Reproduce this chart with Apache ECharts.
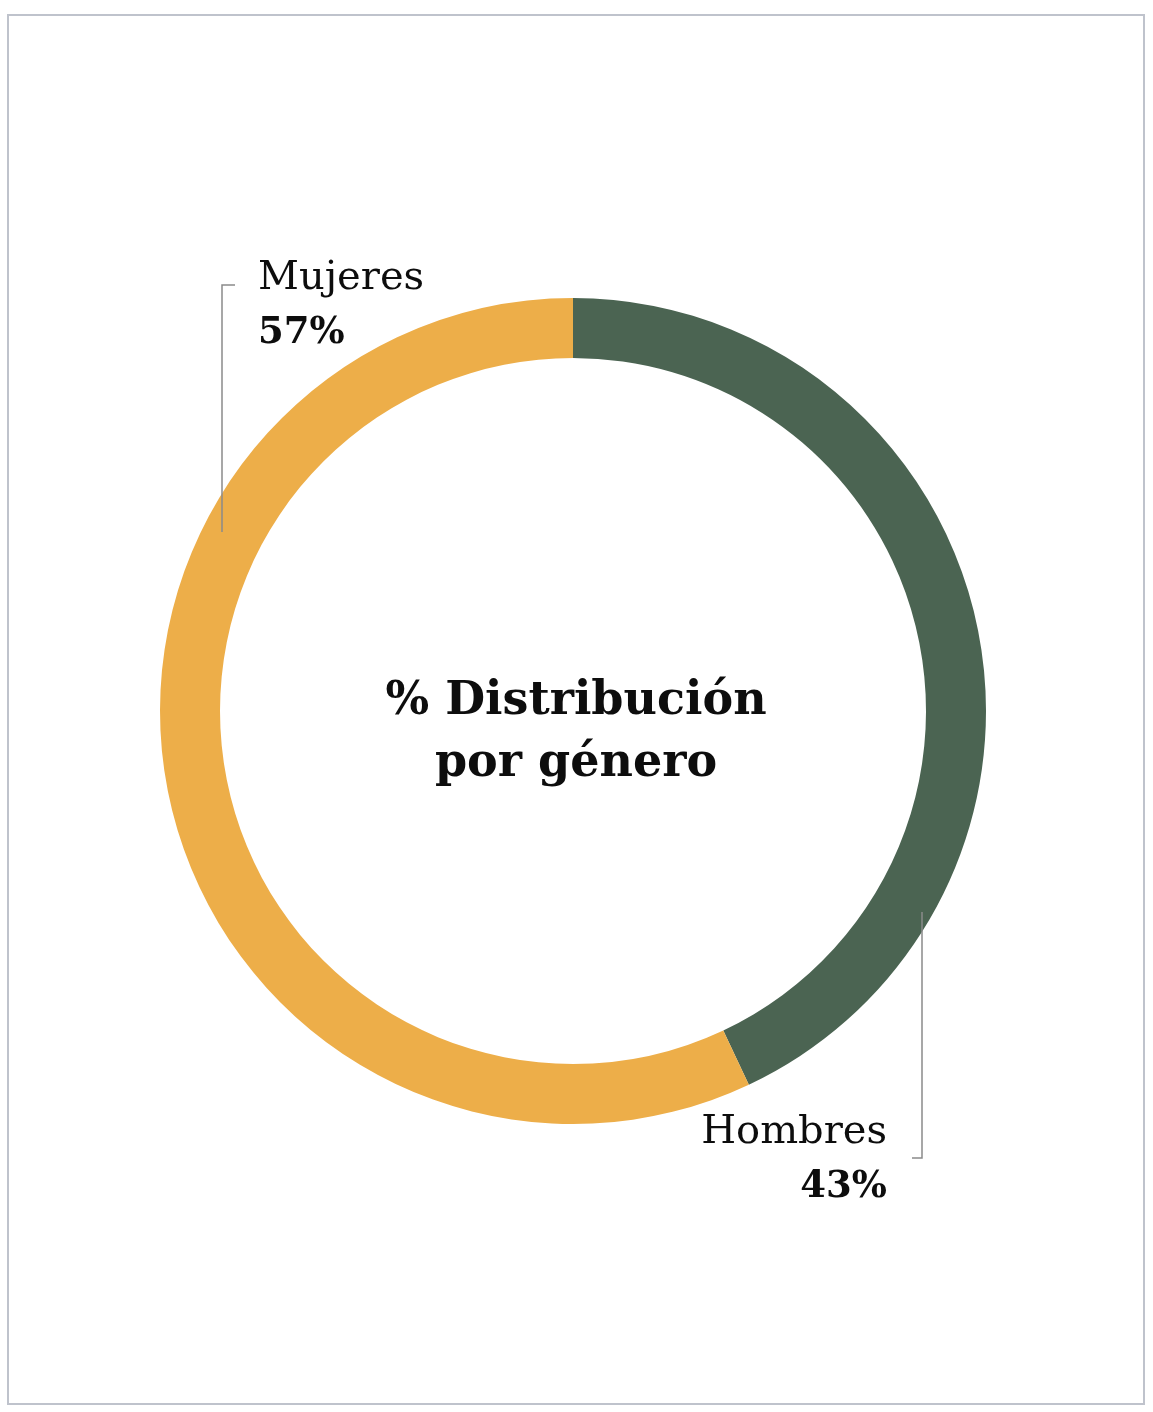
<!DOCTYPE html>
<html>
<head>
<meta charset="utf-8">
<script src="https://cdn.jsdelivr.net/npm/echarts@6/dist/echarts.min.js"></script>
<style>
html,body{margin:0;padding:0;background:#fff;}
#c{width:1153px;height:1412px;}
</style>
</head>
<body>
<div id="c"></div>
<script>
const categories = ['Hombres', 'Mujeres'];
const values = [43, 57];
const colors = ['#4b6452', '#edae49'];
const centerTitle = '% Distribución\npor género';

const FONT = '"DejaVu Serif", serif';
const chart = echarts.init(document.getElementById('c'), null, {renderer: 'canvas'});

const layouts = {
  Hombres: {x: 887, y: 1106, align: 'right', pts: [[922, 912], [922, 1158], [912, 1158]]},
  Mujeres: {x: 258, y: 252, align: 'left', pts: [[222, 532], [222, 285], [235, 285]]}
};

chart.setOption({
  animation: false,
  backgroundColor: '#ffffff',
  graphic: [{
    type: 'rect', silent: true, z: -1,
    shape: {x: 8, y: 15, width: 1136, height: 1389},
    style: {fill: 'none', stroke: '#bfc3cc', lineWidth: 2}
  }, {
    type: 'text', silent: true, z: 10, x: 576, y: 733,
    style: {text: centerTitle, font: 'bold 46px ' + FONT, lineHeight: 62, fill: '#0d0d0d', align: 'center', verticalAlign: 'middle'}
  }].concat(categories.map(n => ({
    type: 'polyline', silent: true, z: 100,
    shape: {points: layouts[n].pts},
    style: {stroke: '#8a8a8a', lineWidth: 1.5, fill: 'none'}
  }))),
  series: [{
    type: 'pie',
    center: [573, 711],
    radius: [353, 413],
    startAngle: 90,
    clockwise: true,
    data: categories.map((n, i) => ({name: n, value: values[i], itemStyle: {color: colors[i]}})),
    label: {
      show: true,
      overflow: 'none',
      width: 300,
      formatter: p => '{n|' + p.name + '}\n{v|' + p.value + '%}',
      rich: {
        n: {fontFamily: FONT, fontSize: 40, lineHeight: 54, color: '#0d0d0d'},
        v: {fontFamily: FONT, fontSize: 37, fontWeight: 'bold', lineHeight: 54, color: '#0d0d0d'}
      }
    },
    labelLine: {show: false},
    labelLayout: function (params) {
      const l = layouts[categories[params.dataIndex]];
      return {x: l.x, y: l.y, align: l.align, verticalAlign: 'top'};
    },
    emphasis: {disabled: true}
  }]
});
</script>
</body>
</html>
